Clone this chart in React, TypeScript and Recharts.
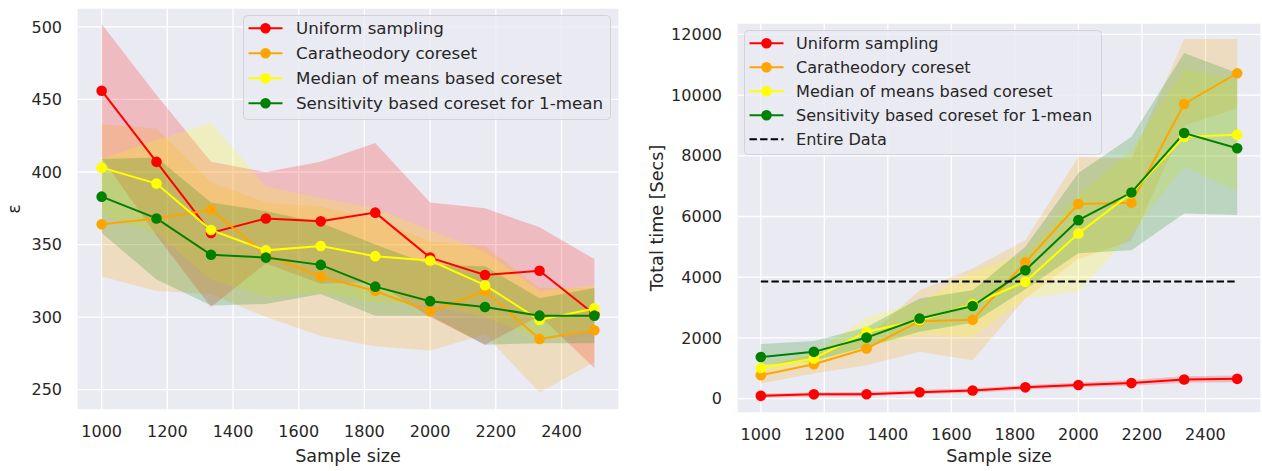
import React from 'react';
import { ComposedChart, Area, Line, XAxis, YAxis, CartesianGrid, Legend, Label } from 'recharts';

const sizes = [1000, 1167, 1333, 1500, 1667, 1833, 2000, 2167, 2333, 2500];
const seriesNames = ['Uniform sampling', 'Caratheodory coreset', 'Median of means based coreset', 'Sensitivity based coreset for 1-mean'];
const seriesColors = ['#ff0000', '#ffa500', '#ffff00', '#008000'];
const xTicks = [1000, 1200, 1400, 1600, 1800, 2000, 2200, 2400];
const epsTicks = [250, 300, 350, 400, 450, 500];
const timeTicks = [0, 2000, 4000, 6000, 8000, 10000, 12000];

// Left chart: epsilon
const uniEps = [456, 407, 358, 368, 366, 372, 341, 329, 332, 302];
const uniEpsLo = [410, 356, 307, 337, 323, 324, 300, 281, 301, 265];
const uniEpsHi = [502, 453, 407, 400, 407, 420, 379, 375, 362, 340];
const caraEps = [364, 368, 374, 343, 328, 318, 304, 318, 285, 291];
const caraEpsLo = [328, 318, 316, 300, 287, 280, 277, 288, 248, 269];
const caraEpsHi = [433, 430, 393, 379, 376, 368, 352, 349, 320, 320];
const medEps = [403, 392, 360, 346, 349, 342, 339, 322, 298, 306];
const medEpsLo = [371, 358, 326, 314, 317, 310, 308, 300, 285, 292];
const medEpsHi = [409, 422, 434, 390, 382, 375, 360, 345, 318, 322];
const sensEps = [383, 368, 343, 341, 336, 321, 311, 307, 301, 301];
const sensEpsLo = [358, 326, 308, 309, 316, 301, 301, 281, 282, 282];
const sensEpsHi = [409, 410, 379, 373, 365, 350, 336, 335, 313, 320];

// Right chart: total time
const uniT = [90, 140, 145, 210, 265, 370, 450, 510, 630, 650];
const uniTLo = [20, 70, 80, 140, 190, 290, 370, 420, 520, 540];
const uniTHi = [160, 210, 220, 290, 340, 450, 530, 610, 740, 760];
const caraT = [770, 1130, 1650, 2550, 2600, 4490, 6410, 6450, 9710, 10720];
const caraTLo = [500, 830, 1100, 1540, 1260, 3300, 4600, 5200, 9000, 9570];
const caraTHi = [1050, 1450, 2000, 3570, 4290, 5220, 7970, 7900, 11850, 11850];
const medT = [1010, 1320, 2200, 2580, 3110, 3850, 5440, 6770, 8630, 8690];
const medTLo = [850, 1150, 1700, 2100, 2030, 3300, 3520, 5440, 7640, 6820];
const medTHi = [1200, 1500, 2690, 3190, 4180, 4800, 6700, 8200, 10860, 10500];
const sensT = [1370, 1540, 2010, 2640, 3050, 4230, 5880, 6790, 8750, 8250];
const sensTLo = [1100, 1250, 1700, 2200, 2500, 3600, 4790, 4890, 6100, 6050];
const sensTHi = [1800, 1900, 2350, 3300, 3570, 5000, 7430, 8630, 11390, 10730];
const entireData = 3860;

const FONT = '"DejaVu Sans", sans-serif';
const TEXT = '#262626';
const BG = '#EAEAF2';
const LABEL_SIZE = 17.6;

const keys = ['uni', 'cara', 'med', 'sens'];

const epsData = sizes.map((x, i) => ({
  x,
  uni: uniEps[i], uniBand: [uniEpsLo[i], uniEpsHi[i]],
  cara: caraEps[i], caraBand: [caraEpsLo[i], caraEpsHi[i]],
  med: medEps[i], medBand: [medEpsLo[i], medEpsHi[i]],
  sens: sensEps[i], sensBand: [sensEpsLo[i], sensEpsHi[i]],
}));

const timeData = sizes.map((x, i) => ({
  x,
  uni: uniT[i], uniBand: [uniTLo[i], uniTHi[i]],
  cara: caraT[i], caraBand: [caraTLo[i], caraTHi[i]],
  med: medT[i], medBand: [medTLo[i], medTHi[i]],
  sens: sensT[i], sensBand: [sensTLo[i], sensTHi[i]],
  entire: entireData,
}));

const tickStyle = { fill: TEXT, fontSize: 16, fontFamily: FONT };

function LegendBox({ w, h, rowStart, rowStep, withEntire, fontSize, textX }: { w: number; h: number; rowStart: number; rowStep: number; withEntire: boolean; fontSize: number; textX: number }) {
  const items = seriesNames.map((n, i) => ({ name: n, color: seriesColors[i], dashed: false }));
  if (withEntire) items.push({ name: 'Entire Data', color: '#000000', dashed: true });
  return (
    <svg width={w} height={h} style={{ display: 'block' }}>
      <rect x={0.5} y={0.5} width={w - 1} height={h - 1} rx={4} ry={4} fill="rgba(234,234,242,0.8)" stroke="#d2d2d8" strokeWidth={1} />
      {items.map((it, i) => {
        const cy = rowStart + i * rowStep;
        return (
          <g key={it.name}>
            {it.dashed ? (
              <line x1={5.5} x2={39.5} y1={cy} y2={cy} stroke={it.color} strokeWidth={2} strokeDasharray="7.4 3.2" />
            ) : (
              <>
                <line x1={5.5} x2={39.5} y1={cy} y2={cy} stroke={it.color} strokeWidth={2} />
                <circle cx={22.5} cy={cy} r={5.3} fill={it.color} />
              </>
            )}
            <text x={textX} y={cy} dominantBaseline="central" fill={TEXT} fontSize={fontSize} fontFamily={FONT}>{it.name}</text>
          </g>
        );
      })}
    </svg>
  );
}

function renderSeries() {
  const areas = keys.map((k, i) => (
    <Area key={k + 'Band'} type="linear" dataKey={k + 'Band'} stroke="none" fill={seriesColors[i]} fillOpacity={0.2} isAnimationActive={false} activeDot={false} legendType="none" />
  ));
  const lines = keys.map((k, i) => (
    <Line key={k} type="linear" dataKey={k} stroke={seriesColors[i]} strokeWidth={2} dot={{ r: 5.3, fill: seriesColors[i], stroke: seriesColors[i], strokeWidth: 0 }} activeDot={false} isAnimationActive={false} />
  ));
  return [...areas, ...lines];
}

export default function App() {
  return (
    <div style={{ position: 'absolute', left: 0, top: 0, width: 1262, height: 471, background: '#fff' }}>
      <div style={{ position: 'absolute', left: 0, top: 0 }}>
        <ComposedChart width={630} height={471} data={epsData} margin={{ top: 8, right: 11, bottom: 0, left: 0 }}>
          <CartesianGrid fill={BG} fillOpacity={1} stroke="#ffffff" strokeWidth={1.3} />
          <XAxis type="number" dataKey="x" domain={[925, 2575]} ticks={xTicks} allowDataOverflow tickLine={false} axisLine={false} tickSize={0} tickMargin={16} tick={tickStyle} height={61}>
            <Label content={() => (
              <text x={348} y={462} textAnchor="middle" fill={TEXT} fontSize={LABEL_SIZE} fontFamily={FONT}>Sample size</text>
            )} />
          </XAxis>
          <YAxis type="number" domain={[236, 513]} ticks={epsTicks} allowDataOverflow tickLine={false} axisLine={false} tickSize={0} tickMargin={15} tick={tickStyle} width={77}>
            <Label content={() => (
              <text x={14} y={209} transform="rotate(-90 14 209)" textAnchor="middle" dominantBaseline="central" fill={TEXT} fontSize={LABEL_SIZE} fontFamily={FONT}>ε</text>
            )} />
          </YAxis>
          {renderSeries()}
          <Legend layout="vertical" align="center" verticalAlign="middle" wrapperStyle={{ left: 243, top: 15, width: 368, height: 105 }}
            content={() => <LegendBox w={368} h={105} rowStart={13.3} rowStep={25} withEntire={false} fontSize={16.7} textX={53} />} />
        </ComposedChart>
      </div>
      <div style={{ position: 'absolute', left: 630, top: 0 }}>
        <ComposedChart width={632} height={471} data={timeData} margin={{ top: 23, right: 1, bottom: 0, left: 0 }}>
          <CartesianGrid fill={BG} fillOpacity={1} stroke="#ffffff" strokeWidth={1.3} />
          <XAxis type="number" dataKey="x" domain={[925, 2575]} ticks={xTicks} allowDataOverflow tickLine={false} axisLine={false} tickSize={0} tickMargin={16} tick={tickStyle} height={58}>
            <Label content={() => (
              <text x={369} y={462} textAnchor="middle" fill={TEXT} fontSize={LABEL_SIZE} fontFamily={FONT}>Sample size</text>
            )} />
          </XAxis>
          <YAxis type="number" domain={[-475, 12376]} ticks={timeTicks} allowDataOverflow tickLine={false} axisLine={false} tickSize={0} tickMargin={15} tick={tickStyle} width={107}>
            <Label content={() => (
              <text x={27} y={218} transform="rotate(-90 27 218)" textAnchor="middle" dominantBaseline="central" fill={TEXT} fontSize={LABEL_SIZE} fontFamily={FONT}>Total time [Secs]</text>
            )} />
          </YAxis>
          {renderSeries()}
          <Line type="linear" dataKey="entire" stroke="#000000" strokeWidth={2} strokeDasharray="7.4 3.2" dot={false} activeDot={false} isAnimationActive={false} />
          <Legend layout="vertical" align="center" verticalAlign="middle" wrapperStyle={{ left: 114, top: 30, width: 358, height: 125 }}
            content={() => <LegendBox w={358} h={125} rowStart={13.3} rowStep={24} withEntire={true} fontSize={16.1} textX={52} />} />
        </ComposedChart>
      </div>
    </div>
  );
}
